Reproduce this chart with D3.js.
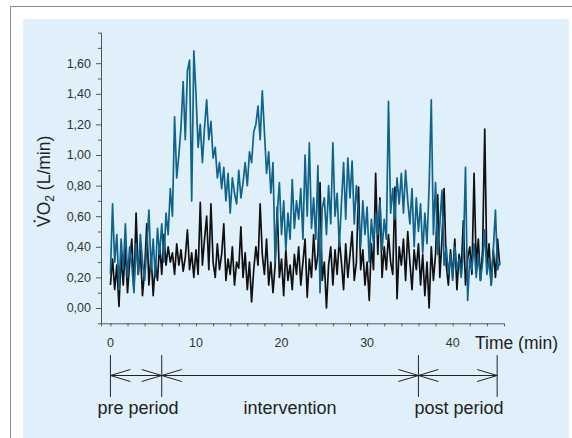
<!DOCTYPE html>
<html>
<head>
<meta charset="utf-8">
<script src="https://cdn.jsdelivr.net/npm/d3@7"></script>
<style>
  body { margin: 0; background: #fff; }
  svg { display: block; font-family: "Liberation Sans", Arial, sans-serif; }
</style>
</head>
<body>
<div id="chart"></div>
<script>
// sample every 0.25 min, starting at t = 0
var step = 0.25;

var blueVO2 = [
  0.22, 0.68, 0.30, 0.48,  0.12, 0.45, 0.25, 0.55,  0.20, 0.40, 0.28, 0.10,
  0.42, 0.22, 0.48, 0.30,  0.18, 0.40, 0.64, 0.25,  0.45, 0.20, 0.52, 0.35,
  0.55, 0.30, 0.62, 0.48,  0.78, 0.60, 1.25, 0.85,  1.00, 1.18, 1.48, 1.10,
  1.55, 1.62, 0.70, 1.68,  1.40, 1.05, 1.20, 0.95,  1.18, 1.36, 1.10, 1.22,
  0.98, 1.05, 0.85, 0.95,  0.78, 0.92, 0.70, 0.88,  0.62, 0.85, 0.75, 0.68,
  0.90, 0.72, 0.82, 0.95,  0.80, 1.02, 0.95, 1.15,  1.20, 1.32, 1.10, 1.42,
  1.15, 0.88, 1.02, 0.75,  0.95, 0.30, 0.62, 0.82,  0.48, 0.70, 0.38, 0.62,
  0.45, 0.84, 0.52, 0.70,  0.58, 0.78, 0.45, 1.00,  0.60, 1.08, 0.52, 0.72,
  0.45, 0.93, 0.10, 0.65,  0.72, 0.48, 0.80, 0.55,  1.08, 0.60, 0.75, 0.40,
  0.68, 0.95, 0.58, 0.98,  0.72, 0.96, 0.55, 0.80,  0.62, 0.40, 0.70, 0.48,
  0.66, 0.30, 0.58, 0.42,  0.62, 0.48, 0.70, 0.38,  0.58, 0.45, 1.35, 0.62,
  0.78, 0.58, 0.85, 0.68,  0.88, 0.62, 0.90, 0.70,  0.55, 0.78, 0.40, 0.72,
  0.50, 0.68, 0.36, 0.62,  0.42, 0.80, 1.36, 0.48,  0.82, 0.35, 0.55, 0.77,
  0.28, 0.40, 0.22, 0.35,  0.18, 0.40, 0.25, 0.32,  0.20, 0.36, 0.92, 0.05,
  0.32, 0.25, 0.42, 0.20,  0.35, 0.18, 0.30, 0.51,  0.22, 0.32, 0.15, 0.38,
  0.64, 0.25, 0.30
];

var blackVO2 = [
  0.15, 0.32, 0.12, 0.28,  0.01, 0.35, 0.15, 0.40,  0.10, 0.30, 0.45, 0.12,
  0.62, 0.22, 0.38, 0.08,  0.25, 0.55, 0.15, 0.35,  0.08, 0.30, 0.18, 0.42,
  0.22, 0.48, 0.28, 0.40,  0.30, 0.36, 0.22, 0.42,  0.28, 0.38, 0.24, 0.33,
  0.51, 0.25, 0.36, 0.20,  0.38, 0.22, 0.69, 0.28,  0.45, 0.60, 0.25, 0.68,
  0.30, 0.20, 0.42, 0.25,  0.35, 0.55, 0.18, 0.32,  0.22, 0.40, 0.15, 0.30,
  0.26, 0.53, 0.20, 0.36,  0.12, 0.30, 0.04, 0.25,  0.40, 0.28, 0.68, 0.35,
  0.22, 0.45, 0.15, 0.30,  0.10, 0.28, 0.66, 0.20,  0.32, 0.08, 0.38, 0.18,
  0.28, 0.12, 0.35, 0.22,  0.40, 0.15, 0.30, 0.45,  0.07, 0.32, 0.20, 0.48,
  0.25, 0.35, 0.82, 0.18,  0.30, 0.00, 0.28, 0.40,  0.15, 0.38, 0.22, 0.45,
  0.30, 0.12, 0.42, 0.20,  0.35, 0.50, 0.18, 0.30,  0.79, 0.25, 0.38, 0.15,
  0.30, 0.05, 0.42, 0.25,  0.88, 0.35, 0.72, 0.20,  0.40, 0.25, 0.48, 0.30,
  0.22, 0.79, 0.06, 0.40,  0.28, 0.45, 0.18, 0.50,  0.30, 0.12, 0.38, 0.25,
  0.42, 0.15, 0.35, 0.08,  0.30, 0.00, 0.40, 0.18,  0.35, 0.74, 0.20, 0.45,
  0.78, 0.28, 0.15, 0.38,  0.20, 0.45, 0.12, 0.35,  0.25, 0.57, 0.15, 0.32,
  0.40, 0.22, 0.88, 0.28,  0.45, 0.18, 0.38, 1.17,  0.25, 0.42, 0.15, 0.38,
  0.20, 0.45, 0.28
];

var yTicks = [0, 0.2, 0.4, 0.6, 0.8, 1.0, 1.2, 1.4, 1.6];
var xTicks = [0, 10, 20, 30, 40];

var periods = [
  { label: "pre period", start: 0, end: 6 },
  { label: "intervention", start: 6, end: 36 },
  { label: "post period", start: 36, end: 45.2 }
];

var width = 572, height = 438;

var svg = d3.select("#chart").append("svg")
    .attr("width", width)
    .attr("height", height);

// outer frame + light blue panel
svg.append("path")
    .attr("d", "M10.5,438 V6.5 H572")
    .attr("fill", "none")
    .attr("stroke", "#8a8a8a")
    .attr("stroke-width", 1);

svg.append("rect")
    .attr("x", 23).attr("y", 19)
    .attr("width", 546).attr("height", 419)
    .attr("fill", "#dff0fa");

var x = d3.scaleLinear().domain([-1.1, 46]).range([101, 504]);
var y = d3.scaleLinear().domain([-0.1, 1.8]).range([323.3, 32.6]);

var fmt = function (d) { return d3.format(".2f")(d).replace(".", ","); };

var yAxis = d3.axisLeft(y)
    .tickValues(d3.range(0, 1.75, 0.1).map(function (d) { return Math.round(d * 10) / 10; }))
    .tickSize(3)
    .tickFormat("");

var gY = svg.append("g")
    .attr("class", "axis axis--y")
    .attr("transform", "translate(101,0)")
    .call(yAxis);

gY.selectAll(".tick line")
    .attr("x2", function (d) { return yTicks.indexOf(d) >= 0 ? -5 : -3; });

gY.selectAll(".tick-label")
    .data(yTicks).enter().append("text")
    .attr("x", -10)
    .attr("y", function (d) { return y(d); })
    .attr("dy", "0.35em")
    .attr("text-anchor", "end")
    .attr("fill", "#333")
    .attr("font-size", 12.5)
    .text(fmt);

var xAxis = d3.axisBottom(x)
    .tickValues(d3.range(0, 46, 2))
    .tickSize(3)
    .tickFormat("");

var gX = svg.append("g")
    .attr("class", "axis axis--x")
    .attr("transform", "translate(0,323.3)")
    .call(xAxis);

gX.selectAll(".tick-label")
    .data(xTicks).enter().append("text")
    .attr("x", function (d) { return x(d); })
    .attr("y", 19)
    .attr("dy", "0.35em")
    .attr("text-anchor", "middle")
    .attr("fill", "#333")
    .attr("font-size", 12.5)
    .text(function (d) { return d; });

svg.selectAll(".axis path, .axis line")
    .attr("stroke", "#555");

svg.append("text")
    .attr("x", 475)
    .attr("y", 343)
    .attr("dy", "0.35em")
    .attr("fill", "#222")
    .attr("font-size", 17.5)
    .text("Time (min)");

// y label, rotated; starts (bottom) at y = 227
var yLabel = svg.append("g").attr("transform", "translate(50,180) rotate(-90)");
var yText = yLabel.append("text")
    .attr("x", -47)
    .attr("fill", "#222")
    .attr("font-size", 17.5);
yText.append("tspan").text("VO");
yText.append("tspan").attr("font-size", 12).attr("dy", 4).text("2");
yText.append("tspan").attr("dy", -4).text(" (L/min)");
yLabel.append("circle")
    .attr("cx", -47 + 5.8)
    .attr("cy", -15.5)
    .attr("r", 1.1)
    .attr("fill", "#222");

// series
var line = d3.line()
    .x(function (d, i) { return x(i * step); })
    .y(function (d) { return y(d); });

svg.append("path")
    .datum(blackVO2)
    .attr("d", line)
    .attr("fill", "none")
    .attr("stroke", "#111")
    .attr("stroke-width", 1.7)
    .attr("stroke-linejoin", "round");

svg.append("path")
    .datum(blueVO2)
    .attr("d", line)
    .attr("fill", "none")
    .attr("stroke", "#10648c")
    .attr("stroke-width", 1.7)
    .attr("stroke-linejoin", "round");

// period annotation
var annTop = 355, annMid = 375.5, annBot = 397;
var ann = svg.append("g").attr("stroke", "#222").attr("stroke-width", 1).attr("fill", "none");

var bounds = [periods[0].start].concat(periods.map(function (p) { return p.end; }));
ann.selectAll(".bound")
    .data(bounds).enter().append("line")
    .attr("x1", function (d) { return x(d); })
    .attr("x2", function (d) { return x(d); })
    .attr("y1", annTop).attr("y2", annBot);

ann.append("line")
    .attr("x1", x(periods[0].start))
    .attr("x2", x(periods[periods.length - 1].end))
    .attr("y1", annMid).attr("y2", annMid);

var headLen = 20, headHalf = 6;
periods.forEach(function (p) {
  var a = x(p.start), b = x(p.end);
  ann.append("path")
      .attr("d", "M" + (a + headLen) + "," + (annMid - headHalf) + "L" + a + "," + annMid + "L" + (a + headLen) + "," + (annMid + headHalf));
  ann.append("path")
      .attr("d", "M" + (b - headLen) + "," + (annMid - headHalf) + "L" + b + "," + annMid + "L" + (b - headLen) + "," + (annMid + headHalf));
});

svg.selectAll(".period-label")
    .data(periods).enter().append("text")
    .attr("x", function (d, i) { return i === 0 ? 138 : (i === 2 ? 459 : (x(d.start) + x(d.end)) / 2); })
    .attr("y", 414)
    .attr("text-anchor", "middle")
    .attr("fill", "#222")
    .attr("font-size", 18)
    .text(function (d) { return d.label; });
</script>
</body>
</html>
